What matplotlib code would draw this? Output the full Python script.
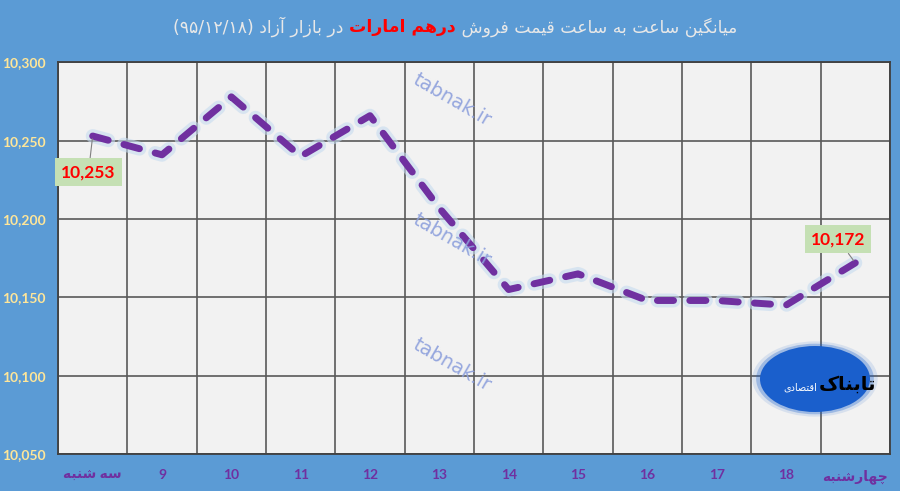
import matplotlib
matplotlib.use("Agg")
import matplotlib.pyplot as plt
from matplotlib.patches import Ellipse
from matplotlib.ticker import FuncFormatter, MultipleLocator, FixedLocator

plt.rcParams['lines.scale_dashes'] = False

# data
categories = ['سه شنبه', '9', '10', '11', '12', '13', '14', '15', '16', '17', '18', 'چهارشنبه']
prices = [10253, 10241, 10278, 10240, 10266, 10207, 10155, 10165, 10148, 10148, 10145, 10172]
title_left = 'در بازار آزاد'
title_date = '(۹۵/۱۲/۱۸)'
title_red = 'درهم امارات'
title_right = 'میانگین ساعت به ساعت قیمت فروش'

# simple persian shaping (matplotlib has no RTL layout)
AR = {
    'ا': ('\ufe8d', '\ufe8e', None, None),
    'آ': ('\ufe81', '\ufe82', None, None),
    'ب': ('\ufe8f', '\ufe90', '\ufe91', '\ufe92'),
    'ت': ('\ufe95', '\ufe96', '\ufe97', '\ufe98'),
    'د': ('\ufea9', '\ufeaa', None, None),
    'ر': ('\ufead', '\ufeae', None, None),
    'ز': ('\ufeaf', '\ufeb0', None, None),
    'س': ('\ufeb1', '\ufeb2', '\ufeb3', '\ufeb4'),
    'ش': ('\ufeb5', '\ufeb6', '\ufeb7', '\ufeb8'),
    'ص': ('\ufeb9', '\ufeba', '\ufebb', '\ufebc'),
    'ع': ('\ufec9', '\ufeca', '\ufecb', '\ufecc'),
    'ف': ('\ufed1', '\ufed2', '\ufed3', '\ufed4'),
    'ق': ('\ufed5', '\ufed6', '\ufed7', '\ufed8'),
    'م': ('\ufee1', '\ufee2', '\ufee3', '\ufee4'),
    'ن': ('\ufee5', '\ufee6', '\ufee7', '\ufee8'),
    'ه': ('\ufee9', '\ufeea', '\ufeeb', '\ufeec'),
    'و': ('\ufeed', '\ufeee', None, None),
    '\u06cc': ('\ufbfc', '\ufbfd', '\ufbfe', '\ufbff'),
    '\u06af': ('\ufb92', '\ufb93', '\ufb94', '\ufb95'),
    '\u0686': ('\ufb7a', '\ufb7b', '\ufb7c', '\ufb7d'),
    '\u06a9': ('\ufb8e', '\ufb8f', '\ufb90', '\ufb91'),
}


def shape(s):
    s = s.replace('\u064a', '\u06cc').replace('\u0643', '\u06a9')
    if not any(c in AR for c in s):
        return s
    out = []
    for i, c in enumerate(s):
        if c not in AR:
            out.append(c)
            continue
        prev = s[i - 1] if i > 0 else ''
        nxt = s[i + 1] if i + 1 < len(s) else ''
        jp = prev in AR and AR[prev][2] is not None
        jn = AR[c][2] is not None and nxt in AR
        f = AR[c]
        if jp and jn:
            out.append(f[3])
        elif jp:
            out.append(f[1])
        elif jn:
            out.append(f[2])
        else:
            out.append(f[0])
    return ''.join(out[::-1])


bg = '#5B9BD5'
purple = '#7030A0'
fams = ['Lato', 'DejaVu Sans']

fig = plt.figure(figsize=(9, 4.91), dpi=100, facecolor=bg)
ax = fig.add_axes([58 / 900, 1 - 454 / 491, 832 / 900, (454 - 62.4) / 491])
ax.set_facecolor('#F2F2F2')

x = list(range(len(categories)))
ax.plot(x, prices, color='#C6DBF0', lw=10, alpha=0.6, ls=(0, (11.6, 11.7)),
        dash_capstyle='round', solid_joinstyle='round', zorder=3)
ax.plot(x, prices, color=purple, lw=5, ls=(0, (11.6, 11.7)),
        dash_capstyle='round', solid_joinstyle='round', zorder=4)

ax.set_xlim(-0.5, len(categories) - 0.5)
ax.set_ylim(10050, 10300)
ax.yaxis.set_major_locator(MultipleLocator(50))
ax.yaxis.set_major_formatter(FuncFormatter(lambda v, p: f'{v:,.0f}'))
ax.xaxis.set_major_locator(FixedLocator(x))
ax.set_xticklabels([shape(c) for c in categories])
ax.xaxis.set_minor_locator(FixedLocator([i + 0.5 for i in range(-1, len(categories))]))
ax.grid(True, which='minor', axis='x', color='#595959', lw=1.2)
ax.grid(True, which='major', axis='y', color='#595959', lw=1.2)
ax.tick_params(which='both', length=0)
ax.tick_params(axis='y', pad=9, labelcolor='#FFE699', labelsize=10)
ax.tick_params(axis='x', pad=11, labelcolor=purple, labelsize=10)
for lb in ax.get_yticklabels() + ax.get_xticklabels():
    lb.set_fontweight('bold')
    lb.set_family(fams)
for s in ax.spines.values():
    s.set_color('#404040')
    s.set_linewidth(1.3)

# data labels
box = dict(boxstyle='square,pad=0.35', fc='#C5E0B4', ec='none')
ax.annotate(f'{prices[0]:,}', xy=(0, prices[0]), xytext=(-0.06, 10230),
            ha='center', va='center', color='#FF0000', fontsize=12.5,
            fontweight='bold', family=fams, bbox=box, zorder=6,
            arrowprops=dict(arrowstyle='-', color='#808080', lw=0.8, shrinkA=0, shrinkB=2))
ax.annotate(f'{prices[-1]:,}', xy=(11, prices[-1]), xytext=(10.75, 10187),
            ha='center', va='center', color='#FF0000', fontsize=12.5,
            fontweight='bold', family=fams, bbox=box, zorder=6,
            arrowprops=dict(arrowstyle='-', color='#808080', lw=0.8, shrinkA=0, shrinkB=2))

# watermarks
for yy in [100, 240, 365]:
    fig.text(452 / 900, 1 - yy / 491, 'tabnak.ir', rotation=-30, rotation_mode='anchor',
             ha='center', va='center', color='#8C9FDC', fontsize=14, alpha=0.9, zorder=5)

# logo
for k, a in [(1.14, 0.12), (1.07, 0.3), (1.0, 1.0)]:
    fig.patches.append(Ellipse((815 / 900, 1 - 379 / 491), 110 * k / 900, 66 * k / 491,
                               transform=fig.transFigure, fc='#1A5FCC', ec='none', alpha=a, zorder=7))
fig.text(848 / 900, 1 - 384 / 491, shape('تابناک'), ha='center', va='center',
         color='black', fontsize=14, fontweight='bold', family='DejaVu Sans', zorder=8)
fig.text(800 / 900, 1 - 388 / 491, shape('اقتصادی'), ha='center', va='center',
         color='white', fontsize=7, family='DejaVu Sans', zorder=8)

# title: visual left -> right
fs = 12.4
t1 = fig.text(173 / 900, 1 - 27 / 491, title_date + ' ' + shape(title_left) + ' ',
              ha='left', va='center', color='#E8E8E8', fontsize=fs, family='DejaVu Sans')
t2 = fig.text(0, 0, shape(title_red), ha='left', va='center', color='#FF0000',
              fontsize=fs, fontweight='bold', family='DejaVu Sans')
t3 = fig.text(0, 0, ' ' + shape(title_right), ha='left', va='center', color='#E8E8E8',
              fontsize=fs, family='DejaVu Sans')
fig.canvas.draw()
r = fig.canvas.get_renderer()
e1 = t1.get_window_extent(r)
t2.set_position(((e1.x1) / 900, 1 - 27 / 491))
fig.canvas.draw()
e2 = t2.get_window_extent(r)
t3.set_position(((e2.x1) / 900, 1 - 27 / 491))

fig.savefig('out.png', dpi=100, facecolor=bg)
